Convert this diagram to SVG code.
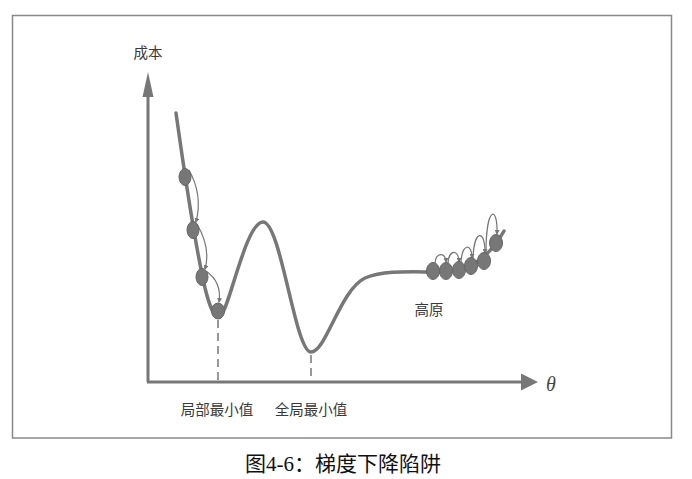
<svg xmlns="http://www.w3.org/2000/svg" width="692" height="479" viewBox="0 0 692 479">
<style>
.lbl{font-family:"Noto Sans CJK SC","Noto Sans",sans-serif;font-size:14.5px;fill:#3a3a3a;}
.cap{font-family:"Liberation Serif","Noto Sans CJK SC",serif;font-size:21px;fill:#111;}
.axis{stroke:#777;stroke-width:3;fill:none;}
.curve{stroke:#777;stroke-width:3.5;fill:none;stroke-linecap:round;}
.dash{stroke:#777;stroke-width:1.5;stroke-dasharray:8 5;fill:none;}
.hop{stroke:#777;stroke-width:1.2;fill:none;marker-end:url(#ah);}
.ball{fill:#777;stroke:#666;stroke-width:1;}
</style>
<defs>
<marker id="ah" viewBox="0 0 10 10" refX="8" refY="5" markerWidth="5" markerHeight="5" orient="auto" markerUnits="userSpaceOnUse">
<path d="M0,0 L10,5 L0,10 z" fill="#777"/>
</marker>
</defs>
<rect x="0" y="0" width="692" height="479" fill="#fff"/>
<rect id="frame" x="12.5" y="15.5" width="659" height="422.5" fill="none" stroke="#888" stroke-width="1.5"/>
<g id="axes">
<line class="axis" x1="148" y1="382" x2="148" y2="96"/>
<polygon points="148,72 142.5,97 153.5,97" fill="#777"/>
<line class="axis" x1="147" y1="382" x2="522" y2="382"/>
<polygon points="538,382 521,373.5 521,390.5" fill="#777"/>
</g>
<g id="connectors">
<path class="curve" d="M176,113 C184,170 194,240 205,288 C210,308 214,317 219,317 C228,317 245,222 263,222 C281,222 295,352 311,352 C326,352 340,290 365,278 C385,270 410,272 440,272 C466,272 487,261 504,231"/>
<line class="dash" x1="218" y1="320" x2="218" y2="381"/>
<line class="dash" x1="311" y1="355" x2="311" y2="381"/>
<path class="hop" d="M189,170 Q203,195 196,222"/>
<path class="hop" d="M197,224 Q211,248 205,269"/>
<path class="hop" d="M206,271 Q222,282 219,302"/>
<path class="hop" d="M435,263 C436,252 446,252 446,262"/>
<path class="hop" d="M448,263 C449,249 459,249 459,262"/>
<path class="hop" d="M461,262 C462,243 472,243 472,258"/>
<path class="hop" d="M473,258 C474,230 485,228 485,253"/>
<path class="hop" d="M486,253 C486,205 498,205 497,234"/>
</g>
<g id="balls">
<ellipse class="ball" cx="185" cy="177" rx="6" ry="8.5"/>
<ellipse class="ball" cx="193" cy="230" rx="6" ry="8.5"/>
<ellipse class="ball" cx="202" cy="277" rx="6" ry="8.5"/>
<ellipse class="ball" cx="218" cy="311" rx="6.5" ry="8"/>
<ellipse class="ball" cx="433" cy="271" rx="6.5" ry="8.5"/>
<ellipse class="ball" cx="446" cy="271" rx="6.5" ry="8.5"/>
<ellipse class="ball" cx="459" cy="270" rx="6.5" ry="8.5"/>
<ellipse class="ball" cx="471" cy="266" rx="6.5" ry="8.5"/>
<ellipse class="ball" cx="484" cy="261" rx="6.5" ry="8.5"/>
<ellipse class="ball" cx="496" cy="243" rx="6.5" ry="8.5"/>
</g>
<g id="labels">
<text class="lbl" x="148" y="58" text-anchor="middle">成本</text>
<text x="546" y="391" font-family="Liberation Serif,serif" font-style="italic" font-size="20" fill="#444">θ</text>
<text class="lbl" x="217" y="415" text-anchor="middle">局部最小值</text>
<text class="lbl" x="311" y="415" text-anchor="middle">全局最小值</text>
<text class="lbl" x="429" y="315" text-anchor="middle">高原</text>
</g>
<text class="cap" x="343" y="471" text-anchor="middle">图4-6：梯度下降陷阱</text>
</svg>
